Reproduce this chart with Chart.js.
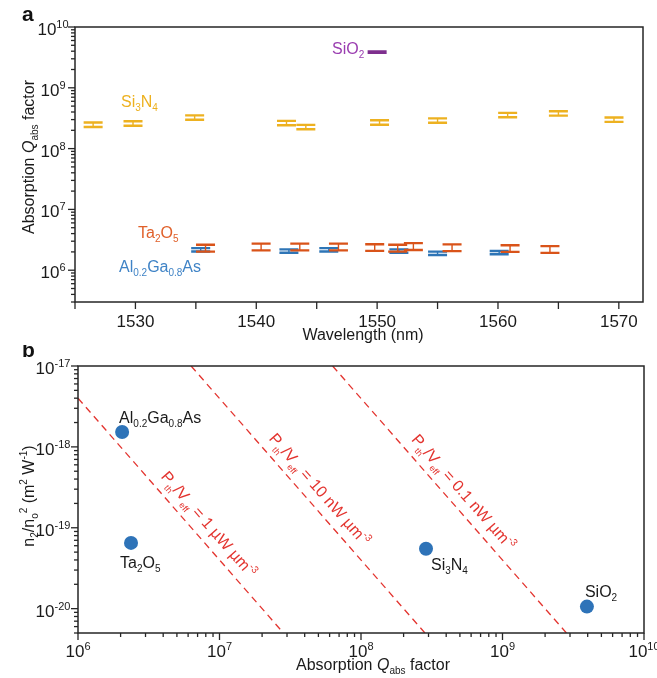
<!DOCTYPE html>
<html>
<head>
<meta charset="utf-8">
<script src="https://cdn.jsdelivr.net/npm/chart.js@4.4.0/dist/chart.umd.min.js"></script>
<style>
  html, body { margin: 0; padding: 0; background: #fff; }
  #wrap { position: relative; width: 657px; height: 678px; }
  canvas { position: absolute; left: 0; display: block; }
</style>
</head>
<body>
<div id="wrap">
  <canvas id="chartA" width="657" height="345" style="top:0"></canvas>
  <canvas id="chartB" width="657" height="333" style="top:345px"></canvas>
</div>
<script>
// ---- panel a: absorption Q vs wavelength ----
const si3n4Wl = [1526.5, 1529.8, 1534.9, 1542.5, 1544.1, 1550.2, 1555.0, 1560.8, 1565.0, 1569.6];
const si3n4Q = [2.47e8, 2.6e8, 3.25e8, 2.64e8, 2.27e8, 2.7e8, 2.9e8, 3.57e8, 3.8e8, 3.0e8];
const si3n4Err = [0.21e8, 0.22e8, 0.27e8, 0.22e8, 0.19e8, 0.23e8, 0.24e8, 0.3e8, 0.32e8, 0.25e8];

const ta2o5Wl = [1535.8, 1540.4, 1543.6, 1546.8, 1549.8, 1551.7, 1553.0, 1556.2, 1561.0, 1564.3];
const ta2o5Q = [2.32e6, 2.43e6, 2.43e6, 2.43e6, 2.38e6, 2.32e6, 2.47e6, 2.36e6, 2.29e6, 2.21e6];
const ta2o5Err = [0.3e6, 0.31e6, 0.31e6, 0.31e6, 0.3e6, 0.3e6, 0.32e6, 0.3e6, 0.29e6, 0.28e6];

const algaasWl = [1535.4, 1542.7, 1546.0, 1551.8, 1555.0, 1560.1];
const algaasQ = [2.17e6, 2.07e6, 2.17e6, 2.07e6, 1.9e6, 1.95e6];
const algaasErr = [0.14e6, 0.13e6, 0.14e6, 0.13e6, 0.12e6, 0.12e6];

const sio2Wl = [1550.0];
const sio2Q = [3.88e9];
const sio2Err = [0.1e9];

const wavelengthTicks = [1530, 1540, 1550, 1560, 1570];
const wavelengthMinor = [1525, 1535, 1545, 1555, 1565];
const qExpsA = [6, 7, 8, 9, 10];

// ---- panel b: n2/n0^2 vs absorption Q ----
const materials = ['Al0.2Ga0.8As', 'Ta2O5', 'Si3N4', 'SiO2'];
const materialQ = [2.05e6, 2.37e6, 2.88e8, 3.95e9];
const materialN2 = [1.53e-18, 6.5e-20, 5.5e-20, 1.06e-20];

const thresholdNames = ['1 µW µm', '10 nW µm', '0.1 nW µm'];
const thresholdQ = [[1e6, 2.83e7], [6.3e6, 2.83e8], [6.3e7, 2.83e9]];
const thresholdN2 = [[4e-18, 5e-21], [1e-17, 5e-21], [1e-17, 5e-21]];

const qExpsB = [6, 7, 8, 9, 10];
const n2Exps = [-20, -19, -18, -17];

// colours
const YELLOW = '#EDB120', ORANGE = '#D95319', BLUE = '#2E75B6', PURPLE = '#7E2F8E';
const RED = '#E3342F', INK = '#1a1a1a';
const FAMILY = '"Liberation Sans", Arial, Helvetica, sans-serif';

function fnt(p) {
  return (p.b ? 'bold ' : '') + (p.it ? 'italic ' : '') + p.s + 'px ' + FAMILY;
}

function richWidth(ctx, parts) {
  let w = 0;
  parts.forEach(p => { ctx.font = fnt(p); w += ctx.measureText(p.t).width; });
  return w;
}

function drawRich(ctx, parts, x, y, align, color) {
  const w = richWidth(ctx, parts);
  let cx = align === 'center' ? x - w / 2 : (align === 'right' ? x - w : x);
  ctx.fillStyle = color;
  ctx.textAlign = 'left';
  ctx.textBaseline = 'alphabetic';
  parts.forEach(p => {
    ctx.font = fnt(p);
    ctx.fillText(p.t, cx, y + (p.dy || 0));
    cx += ctx.measureText(p.t).width;
  });
}

// "Al0.2Ga0.8As" -> text with subscripted numbers
function chem(name, s, sub) {
  return name.split(/([\d.]+)/).filter(t => t).map(t =>
    /^[\d.]+$/.test(t) ? { t: t, s: sub, dy: 4 } : { t: t, s: s });
}

function pow10(e) {
  return [{ t: '10', s: 17 }, { t: String(e), s: 11, dy: -7 }];
}

function logTicks(min, max) {
  const out = [];
  for (let e = Math.floor(Math.log10(min)); e <= Math.ceil(Math.log10(max)); e++) {
    for (let m = 1; m <= 9; m++) {
      const v = m * Math.pow(10, e);
      if (v >= min * 0.999 && v <= max * 1.001) out.push({ v: v, major: m === 1 });
    }
  }
  return out;
}

// frame, ticks, tick labels and titles
function axesPlugin(cfg) {
  return {
    id: 'axes_' + cfg.name,
    afterDraw(chart) {
      const ctx = chart.ctx, a = chart.chartArea;
      const xs = chart.scales.x, ys = chart.scales.y;
      ctx.save();
      ctx.strokeStyle = '#262626';
      ctx.lineWidth = 1.5;
      ctx.strokeRect(a.left, a.top, a.right - a.left, a.bottom - a.top);

      ctx.lineWidth = 1.3;
      const line = (x1, y1, x2, y2) => {
        ctx.beginPath(); ctx.moveTo(x1, y1); ctx.lineTo(x2, y2); ctx.stroke();
      };
      cfg.xTicks.forEach(t => {
        const px = xs.getPixelForValue(t.v);
        line(px, a.bottom, px, a.bottom + (t.major ? 7 : 4));
      });
      cfg.yTicks.forEach(t => {
        const py = ys.getPixelForValue(t.v);
        line(a.left, py, a.left - (t.major ? 7 : 4), py);
      });

      cfg.xLabels.forEach(l => {
        drawRich(ctx, l.parts, xs.getPixelForValue(l.v), a.bottom + cfg.xLabelDy, 'center', INK);
      });
      cfg.yLabels.forEach(l => {
        drawRich(ctx, l.parts, a.left - cfg.yLabelDx, ys.getPixelForValue(l.v) + 8, 'center', INK);
      });

      cfg.extra(ctx, chart);
      ctx.restore();
    }
  };
}

// error bars for panel a
const errorBarPlugin = {
  id: 'errorBars',
  afterDatasetsDraw(chart) {
    const ctx = chart.ctx, a = chart.chartArea;
    const xs = chart.scales.x, ys = chart.scales.y;
    ctx.save();
    ctx.beginPath();
    ctx.rect(a.left, a.top, a.right - a.left, a.bottom - a.top);
    ctx.clip();
    chart.data.datasets.forEach(ds => {
      ctx.strokeStyle = ds.borderColor;
      ds.data.forEach(pt => {
        const px = xs.getPixelForValue(pt.x);
        const hi = ys.getPixelForValue(pt.y + pt.err);
        const lo = ys.getPixelForValue(pt.y - pt.err);
        ctx.lineWidth = 1.4;
        ctx.beginPath(); ctx.moveTo(px, hi); ctx.lineTo(px, lo); ctx.stroke();
        ctx.lineWidth = 2.4;
        ctx.beginPath();
        ctx.moveTo(px - 9.5, hi); ctx.lineTo(px + 9.5, hi);
        ctx.moveTo(px - 9.5, lo); ctx.lineTo(px + 9.5, lo);
        ctx.stroke();
      });
    });
    ctx.restore();
  }
};

function seriesA(label, wl, q, err, color) {
  return {
    label: label,
    data: wl.map((x, i) => ({ x: x, y: q[i], err: err[i] })),
    borderColor: color,
    backgroundColor: color,
    pointRadius: 0
  };
}

const hiddenScale = {
  grid: { display: false },
  border: { display: false },
  ticks: { display: false },
  title: { display: false }
};

// ---------- chart a ----------
const qTicksA = logTicks(3e5, 1e10);
new Chart(document.getElementById('chartA'), {
  type: 'scatter',
  data: {
    datasets: [
      seriesA('Al0.2Ga0.8As', algaasWl, algaasQ, algaasErr, BLUE),
      seriesA('Ta2O5', ta2o5Wl, ta2o5Q, ta2o5Err, ORANGE),
      seriesA('Si3N4', si3n4Wl, si3n4Q, si3n4Err, YELLOW),
      seriesA('SiO2', sio2Wl, sio2Q, sio2Err, PURPLE)
    ]
  },
  options: {
    responsive: false,
    animation: false,
    layout: { padding: { top: 27, right: 14, left: 0, bottom: 0 } },
    plugins: { legend: { display: false }, tooltip: { enabled: false } },
    scales: {
      x: Object.assign({ type: 'linear', min: 1525, max: 1572,
        afterFit(s) { s.height = 43; } }, hiddenScale),
      y: Object.assign({ type: 'logarithmic', min: 3e5, max: 1e10,
        afterFit(s) { s.width = 75; } }, hiddenScale)
    }
  },
  plugins: [errorBarPlugin, axesPlugin({
    name: 'a',
    xTicks: wavelengthTicks.map(v => ({ v: v, major: true }))
      .concat(wavelengthMinor.map(v => ({ v: v, major: true }))),
    yTicks: qTicksA,
    xLabels: wavelengthTicks.map(v => ({ v: v, parts: [{ t: String(v), s: 17 }] })),
    yLabels: qExpsA.map(e => ({ v: Math.pow(10, e), parts: pow10(e) })),
    xLabelDy: 25,
    yLabelDx: 22,
    extra(ctx) {
      drawRich(ctx, [{ t: 'a', s: 21, b: true }], 22, 21, 'left', '#111');
      drawRich(ctx, [{ t: 'Wavelength (nm)', s: 16 }], 363, 340, 'center', INK);
      ctx.save();
      ctx.translate(34, 157);
      ctx.rotate(-Math.PI / 2);
      drawRich(ctx, [{ t: 'Absorption ', s: 16 }, { t: 'Q', s: 16, it: true },
        { t: 'abs', s: 10, dy: 4 }, { t: ' factor', s: 16 }], 0, 0, 'center', INK);
      ctx.restore();
      drawRich(ctx, chem('Si3N4', 16, 10), 121, 107, 'left', YELLOW);
      drawRich(ctx, chem('SiO2', 16, 10), 332, 54, 'left', '#9A3DB0');
      drawRich(ctx, chem('Ta2O5', 16, 10), 138, 238, 'left', '#E0602A');
      drawRich(ctx, chem('Al0.2Ga0.8As', 16, 10), 119, 272, 'left', '#3F83C6');
    }
  })]
});

// ---------- chart b ----------
// label placement for the material names, offset from each point (px)
const nameOffsets = [[-3, -9], [-11, 25], [5, 21], [-2, -10]];
// label placement along each dashed line: fraction along the segment
const lineLabelPos = [0.58, 0.50, 0.51];

const lineLabelPlugin = {
  id: 'lineLabels',
  afterDatasetsDraw(chart) {
    const ctx = chart.ctx;
    ctx.save();
    // material names
    const pm = chart.getDatasetMeta(3);
    pm.data.forEach((el, i) => {
      drawRich(ctx, chem(materials[i], 16, 10), el.x + nameOffsets[i][0],
        el.y + nameOffsets[i][1], 'left', INK);
    });
    // threshold labels
    thresholdNames.forEach((name, i) => {
      const m = chart.getDatasetMeta(i);
      const p0 = m.data[0], p1 = m.data[1];
      const ang = Math.atan2(p1.y - p0.y, p1.x - p0.x);
      const f = lineLabelPos[i];
      const cx = p0.x + (p1.x - p0.x) * f + Math.sin(ang) * 16;
      const cy = p0.y + (p1.y - p0.y) * f - Math.cos(ang) * 16;
      ctx.save();
      ctx.translate(cx, cy);
      ctx.rotate(ang);
      drawRich(ctx, [
        { t: 'P', s: 16 }, { t: 'th', s: 9, dy: 5 }, { t: '/V', s: 16 },
        { t: 'eff', s: 9, dy: 5 }, { t: ' = ' + name, s: 16 }, { t: '-3', s: 10, dy: -7 }
      ], 0, 6, 'center', RED);
      ctx.restore();
    });
    ctx.restore();
  }
};

const thresholdSets = thresholdNames.map((name, i) => ({
  label: name,
  data: thresholdQ[i].map((x, j) => ({ x: x, y: thresholdN2[i][j] })),
  showLine: true,
  borderColor: RED,
  borderWidth: 1.3,
  borderDash: [7, 5],
  pointRadius: 0
}));

new Chart(document.getElementById('chartB'), {
  type: 'scatter',
  data: {
    datasets: thresholdSets.concat([{
      label: 'materials',
      data: materialQ.map((x, i) => ({ x: x, y: materialN2[i] })),
      pointRadius: 7,
      pointBorderWidth: 0,
      backgroundColor: '#2E73B8',
      borderColor: '#2E73B8'
    }])
  },
  options: {
    responsive: false,
    animation: false,
    layout: { padding: { top: 21, right: 13, left: 0, bottom: 0 } },
    plugins: { legend: { display: false }, tooltip: { enabled: false } },
    scales: {
      x: Object.assign({ type: 'logarithmic', min: 1e6, max: 1e10,
        afterFit(s) { s.height = 45; } }, hiddenScale),
      y: Object.assign({ type: 'logarithmic', min: 5e-21, max: 1e-17,
        afterFit(s) { s.width = 78; } }, hiddenScale)
    }
  },
  plugins: [lineLabelPlugin, axesPlugin({
    name: 'b',
    xTicks: logTicks(1e6, 1e10),
    yTicks: logTicks(5e-21, 1e-17),
    xLabels: qExpsB.map(e => ({ v: Math.pow(10, e), parts: pow10(e) })),
    yLabels: n2Exps.map(e => ({ v: Math.pow(10, e), parts: pow10(e) })),
    xLabelDy: 24,
    yLabelDx: 25,
    extra(ctx) {
      drawRich(ctx, [{ t: 'b', s: 21, b: true }], 22, 12, 'left', '#111');
      drawRich(ctx, [{ t: 'Absorption ', s: 16 }, { t: 'Q', s: 16, it: true },
        { t: 'abs', s: 10, dy: 4 }, { t: ' factor', s: 16 }], 373, 325, 'center', INK);
      ctx.save();
      ctx.translate(34, 151);
      ctx.rotate(-Math.PI / 2);
      drawRich(ctx, [
        { t: 'n', s: 16 }, { t: '2', s: 10, dy: 4 }, { t: '/n', s: 16 },
        { t: 'o', s: 10, dy: 4 }, { t: '2', s: 10, dy: -7 },
        { t: ' (m', s: 16 }, { t: '2', s: 10, dy: -7 }, { t: ' W', s: 16 },
        { t: '-1', s: 10, dy: -7 }, { t: ')', s: 16 }
      ], 0, 0, 'center', INK);
      ctx.restore();
    }
  })]
});
</script>
</body>
</html>
